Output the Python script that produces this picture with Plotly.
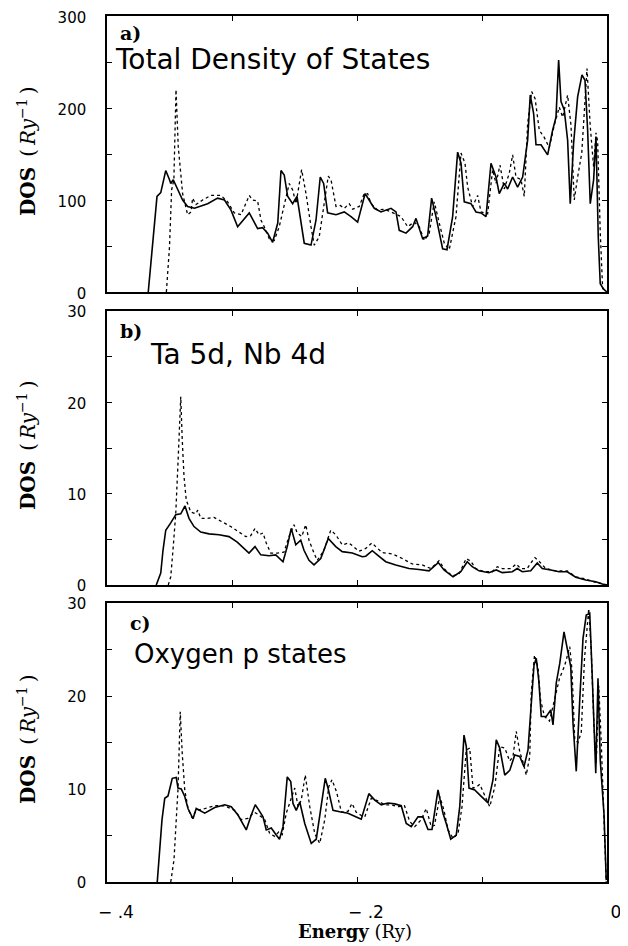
import plotly.graph_objects as go

# ---------------- data (Energy in Ry, DOS in Ry^-1) ----------------
a_solid_E = [-0.367, -0.3635, -0.360, -0.357, -0.353, -0.350, -0.349, -0.347, -0.3435, -0.3395, -0.3355, -0.330,
             -0.3195, -0.3115, -0.306, -0.3008, -0.2955, -0.2915, -0.2862, -0.2795, -0.2755, -0.2715, -0.2675,
             -0.2634, -0.2608, -0.2582, -0.2555, -0.2515, -0.248, -0.2422, -0.2368, -0.2328, -0.2294, -0.2267,
             -0.2235, -0.2168, -0.2102, -0.2048, -0.1995, -0.1935, -0.1862, -0.1808, -0.1728, -0.1688, -0.1662,
             -0.1608, -0.1555, -0.1528, -0.1475, -0.1435, -0.1403, -0.1368, -0.1315, -0.128, -0.1235, -0.1195,
             -0.1168, -0.1142, -0.1088, -0.1048, -0.1008, -0.0968, -0.0928, -0.0888, -0.0862, -0.0822, -0.0795,
             -0.0755, -0.0715, -0.0675, -0.0635, -0.0614, -0.0587, -0.0568, -0.0528, -0.0475, -0.0435, -0.0408,
             -0.0387, -0.0368, -0.0342, -0.0315, -0.0294, -0.0267, -0.0235, -0.020, -0.0176, -0.0155, -0.0134,
             -0.0107, -0.0088, -0.007, -0.0054, -0.0027, 0.0]
a_solid_V = [0, 49, 104, 108, 132, 122, 118, 122, 111, 100, 93, 91,
             96, 102, 100, 89, 71, 78, 86, 69, 70, 64, 54,
             75, 132, 127, 104, 96, 104, 53, 51, 78, 125, 118,
             86, 84, 87, 82, 76, 107, 91, 87, 91, 87, 67,
             64, 71, 80, 58, 61, 102, 82, 47, 46, 82, 152,
             140, 98, 96, 87, 86, 82, 140, 125, 107, 118, 112,
             125, 114, 125, 165, 214, 194, 160, 160, 149, 176, 190,
             252, 207, 198, 165, 96, 162, 212, 236, 230, 176, 96,
             122, 169, 60, 9, 3, 0]

a_dot_E = [-0.3525, -0.350, -0.3483, -0.3465, -0.3448, -0.343, -0.3395, -0.3355, -0.3328, -0.3315, -0.3288,
           -0.3235, -0.3168, -0.3088, -0.3035, -0.2982, -0.2928, -0.2862, -0.2835, -0.2795, -0.2768, -0.2742,
           -0.2702, -0.2662, -0.2622, -0.2582, -0.2542, -0.2515, -0.2488, -0.2443, -0.2408, -0.2368, -0.2342,
           -0.2302, -0.2262, -0.223, -0.2208, -0.2168, -0.2134, -0.2102, -0.2062, -0.2035, -0.1982, -0.1942,
           -0.1915, -0.1888, -0.1835, -0.1782, -0.1728, -0.1648, -0.1595, -0.1542, -0.1502, -0.1462, -0.1422,
           -0.1382, -0.1342, -0.1302, -0.1262, -0.1208, -0.1168, -0.1136, -0.1115, -0.1075, -0.1035, -0.1008,
           -0.0955, -0.0915, -0.0888, -0.0856, -0.0822, -0.0782, -0.0755, -0.0728, -0.0688, -0.0662, -0.0635,
           -0.0603, -0.0575, -0.0542, -0.0502, -0.0462, -0.0422, -0.0382, -0.0355, -0.0315, -0.0288, -0.0262,
           -0.0235, -0.0202, -0.016, -0.0134, -0.0107, -0.0088, -0.0075, -0.0054, -0.0035, 0.0]
a_dot_V = [0, 49, 111, 122, 220, 158, 107, 84, 87, 102, 95,
           100, 105, 105, 98, 86, 84, 105, 100, 99, 78, 71,
           58, 56, 71, 93, 118, 111, 96, 133, 107, 71, 51,
           60, 100, 126, 122, 93, 94, 91, 96, 90, 93, 107,
           107, 96, 89, 90, 87, 82, 71, 76, 71, 56, 64,
           98, 75, 53, 46, 82, 151, 140, 114, 93, 105, 87,
           85, 133, 118, 138, 112, 129, 149, 125, 122, 104, 183,
           218, 210, 176, 168, 157, 181, 201, 190, 214, 181, 100,
           125, 151, 243, 180, 136, 173, 164, 65, 4, 0]

b_solid_E = [-0.3606, -0.357, -0.3552, -0.353, -0.349, -0.345, -0.341, -0.3376, -0.3344, -0.3304, -0.325,
             -0.3184, -0.3104, -0.3024, -0.2958, -0.2904, -0.2864, -0.2816, -0.277, -0.2704, -0.265, -0.2592,
             -0.2558, -0.2526, -0.249, -0.245, -0.2424, -0.2384, -0.2344, -0.229, -0.223, -0.217, -0.2118,
             -0.2038, -0.1958, -0.193, -0.1878, -0.1838, -0.177, -0.169, -0.1584, -0.1504, -0.1424, -0.135,
             -0.1304, -0.1232, -0.117, -0.1118, -0.1078, -0.1024, -0.0944, -0.0886, -0.0838, -0.0758, -0.0718,
             -0.0678, -0.061, -0.0558, -0.0518, -0.045, -0.0384, -0.0318, -0.025, -0.017, -0.009, -0.0037, 0.0]
b_solid_V = [0, 1.3, 3.8, 6.0, 6.8, 7.7, 7.8, 8.65, 7.3, 6.4, 5.8,
             5.6, 5.5, 5.3, 4.7, 4.0, 3.5, 4.2, 3.3, 3.2, 3.3, 2.55,
             4.2, 6.2, 4.4, 4.9, 3.8, 2.7, 2.2, 2.9, 5.1, 4.2, 3.65,
             3.5, 3.1, 3.15, 3.75, 3.3, 2.55, 2.2, 1.8, 1.7, 1.55, 2.45,
             1.65, 0.9, 1.45, 2.55, 2.0, 1.55, 1.35, 1.65, 1.35, 1.45, 1.8,
             1.45, 1.55, 2.4, 1.8, 1.65, 1.45, 1.45, 0.85, 0.55, 0.35, 0.1, 0]

b_dot_E = [-0.351, -0.349, -0.347, -0.345, -0.343, -0.341, -0.3398, -0.3384, -0.3366, -0.333, -0.329, -0.3274,
           -0.325, -0.3198, -0.3144, -0.3078, -0.301, -0.2944, -0.289, -0.285, -0.2816, -0.2784, -0.2752, -0.2726,
           -0.269, -0.2638, -0.2584, -0.2544, -0.2504, -0.2478, -0.2442, -0.241, -0.2384, -0.2344, -0.2318,
           -0.2264, -0.221, -0.217, -0.2118, -0.2064, -0.2024, -0.1984, -0.193, -0.1882, -0.185, -0.1798,
           -0.1718, -0.1638, -0.1558, -0.1478, -0.141, -0.1344, -0.1304, -0.1238, -0.1184, -0.1126, -0.109,
           -0.105, -0.0984, -0.0918, -0.0878, -0.0838, -0.077, -0.0726, -0.0691, -0.0638, -0.061, -0.0576,
           -0.0544, -0.049, -0.041, -0.0318, -0.025, -0.017, -0.0104, -0.005, 0.0]
b_dot_V = [0, 0.9, 4.2, 7.8, 14, 20.6, 15.9, 11.9, 9.3, 8.0, 7.8, 8.2,
           7.3, 7.3, 7.4, 6.9, 6.4, 5.8, 5.3, 5.4, 6.2, 5.5, 5.7, 4.6,
           3.5, 3.5, 3.6, 5.3, 6.6, 5.7, 5.3, 6.6, 4.9, 3.5, 2.7,
           3.8, 6.0, 5.5, 4.4, 4.6, 4.2, 3.7, 4.0, 4.6, 4.2, 3.55,
           3.4, 2.9, 2.3, 2.2, 1.8, 2.65, 1.8, 1.0, 1.2, 2.9, 2.6,
           1.8, 1.45, 1.45, 2.0, 1.8, 1.8, 2.3, 1.8, 1.8, 2.4, 3.0,
           2.6, 1.8, 1.55, 1.55, 0.9, 0.65, 0.35, 0.15, 0]

c_solid_E = [-0.3598, -0.3578, -0.356, -0.3538, -0.3512, -0.3478, -0.3446, -0.3432, -0.3406, -0.3378, -0.3352,
             -0.3312, -0.3286, -0.3218, -0.3138, -0.3058, -0.3006, -0.2952, -0.2886, -0.2846, -0.2814, -0.2784,
             -0.2752, -0.2726, -0.2686, -0.2646, -0.262, -0.2592, -0.2558, -0.253, -0.2512, -0.2486, -0.2458,
             -0.2418, -0.2366, -0.2326, -0.229, -0.2254, -0.2232, -0.2192, -0.2138, -0.2072, -0.2006, -0.1966,
             -0.1905, -0.1858, -0.1806, -0.1752, -0.1698, -0.1646, -0.1606, -0.1566, -0.1512, -0.1472, -0.1432,
             -0.14, -0.1352, -0.1312, -0.1286, -0.125, -0.1206, -0.1178, -0.1144, -0.1126, -0.1104, -0.1058,
             -0.1006, -0.0952, -0.0912, -0.0886, -0.0858, -0.0818, -0.0778, -0.0738, -0.0698, -0.0664, -0.0632,
             -0.0606, -0.0584, -0.0566, -0.0546, -0.0526, -0.0486, -0.045, -0.0432, -0.0406, -0.0378, -0.0344,
             -0.0318, -0.029, -0.0272, -0.0246, -0.0218, -0.0192, -0.0166, -0.0138, -0.0118, -0.009, -0.0072,
             -0.0054, -0.0024, -0.0006]
c_solid_V = [0, 3.1, 6.7, 9.0, 9.25, 11.15, 11.25, 10.1, 10.0, 9.2, 7.9,
             6.8, 7.9, 7.4, 8.0, 8.3, 8.1, 7.2, 5.6, 7.2, 8.3, 7.7,
             7.0, 5.6, 5.8, 5.05, 4.6, 5.95, 11.3, 10.8, 8.45, 7.7, 8.6,
             6.3, 4.15, 4.6, 7.9, 11.15, 10.1, 7.7, 7.55, 7.4, 7.0, 6.75,
             9.5, 8.8, 8.3, 8.5, 8.4, 8.2, 6.3, 5.95, 7.0, 7.0, 5.65,
             5.65, 9.9, 7.4, 6.3, 4.6, 5.05, 8.1, 15.8, 14.6, 10.1, 9.9,
             9.2, 8.5, 11.0, 15.3, 14.4, 11.5, 12.0, 13.65, 13.5, 12.4, 14.2,
             19.6, 23.3, 24.05, 21.7, 17.8, 17.8, 18.5, 16.9, 21.4, 23.5, 26.9,
             24.9, 23.15, 17.1, 11.9, 19.6, 26.2, 28.7, 28.9, 22.1, 11.7, 21.9,
             13.1, 7.3, 0.2]

c_dot_E = [-0.349, -0.3464, -0.3446, -0.3432, -0.3414, -0.3398, -0.3378, -0.3352, -0.332, -0.3286, -0.3218,
           -0.3138, -0.3058, -0.2978, -0.2926, -0.2872, -0.282, -0.2784, -0.2738, -0.2698, -0.2658, -0.2626,
           -0.2598, -0.2566, -0.2526, -0.2498, -0.2472, -0.2446, -0.2414, -0.2378, -0.2338, -0.2298, -0.2258,
           -0.2226, -0.22, -0.2164, -0.2124, -0.2072, -0.204, -0.2006, -0.1966, -0.1938, -0.1886, -0.183,
           -0.1778, -0.1726, -0.1672, -0.162, -0.1578, -0.1538, -0.1486, -0.1446, -0.1406, -0.138, -0.1338,
           -0.1304, -0.1272, -0.1232, -0.1192, -0.116, -0.1126, -0.1098, -0.1072, -0.1045, -0.1018, -0.0985,
           -0.0938, -0.0898, -0.0858, -0.0818, -0.0778, -0.0752, -0.0726, -0.0698, -0.0672, -0.0646, -0.0618,
           -0.0606, -0.058, -0.0552, -0.0532, -0.05, -0.046, -0.042, -0.038, -0.034, -0.0298, -0.028, -0.0258,
           -0.0232, -0.0206, -0.018, -0.0146, -0.0126, -0.0104, -0.0086, -0.0066, -0.0046, -0.0024, -0.0006]
c_dot_V = [0, 2.4, 6.7, 10, 18.3, 13.8, 9.9, 7.9, 6.9, 7.7, 7.9,
           8.2, 8.2, 7.7, 6.7, 6.85, 7.5, 7.2, 6.7, 5.2, 4.9, 5.4,
           5.1, 7.4, 9.0, 10.1, 8.1, 8.8, 11.5, 8.1, 5.2, 4.15, 6.7,
           10.25, 11.0, 9.7, 7.5, 7.6, 8.45, 7.5, 7.15, 7.0, 9.0, 8.7,
           8.3, 8.3, 8.1, 8.2, 6.5, 5.95, 6.7, 7.9, 5.95, 6.1, 9.2,
           7.7, 5.6, 4.7, 5.2, 8.1, 14.2, 14.4, 10.1, 10.2, 10.5, 9.5,
           8.1, 10.2, 14.55, 14.4, 13.0, 13.5, 16.2, 14.0, 12.9, 11.5, 13.5,
           20.3, 24.4, 23.1, 19.6, 17.8, 17.3, 19.6, 21.9, 23.2, 25.3, 22.8, 15.3,
           15.0, 16.1, 24.0, 29.4, 24.9, 16.7, 12.8, 21.1, 15.0, 7.3, 0]

panel_labels = ["a)", "b)", "c)"]
panel_titles = ["Total Density of States", "Ta 5d, Nb 4d", "Oxygen p states"]
x_tickvals = [-0.4, -0.3, -0.2, -0.1, 0.0]
x_ticktext = ["\u2212 .4", "", "\u2212 .2", "", "0"]
ya_tickvals = [0, 50, 100, 150, 200, 250, 300]
ya_ticktext = ["0", "", "100", "", "200", "", "300"]
yb_tickvals = [0, 5, 10, 15, 20, 25, 30]
yb_ticktext = ["0", "", "10", "", "20", "", "30"]

# ---------------- figure ----------------
OFF = 8                      # default page (body) margin of the html page
W, H = 628 - OFF, 946 - OFF
# plot frame in page pixels: left 107, right 607, top 16, bottom 882
ML, MT = 107 - OFF, 16 - OFF
MR = W - (607 - OFF)
MB = H - (882 - OFF)
PW, PH = W - ML - MR, H - MT - MB


def py(pix):  # page pixel y -> paper fraction
    return (H - MB - (pix - OFF)) / PH


def px(pix):
    return (pix - OFF - ML) / PW


fig = go.Figure()
solid = dict(color="black", width=1.6)
dotted = dict(color="black", width=1.3, dash="dot")
series = [(a_solid_E, a_solid_V, a_dot_E, a_dot_V),
          (b_solid_E, b_solid_V, b_dot_E, b_dot_V),
          (c_solid_E, c_solid_V, c_dot_E, c_dot_V)]
for i, (e1, v1, e2, v2) in enumerate(series):
    xa = "x" if i == 0 else f"x{i+1}"
    ya = "y" if i == 0 else f"y{i+1}"
    fig.add_trace(go.Scatter(x=e1, y=v1, mode="lines", line=solid, xaxis=xa, yaxis=ya, showlegend=False))
    fig.add_trace(go.Scatter(x=e2, y=v2, mode="lines", line=dotted, xaxis=xa, yaxis=ya, showlegend=False))

domains = [(py(292), py(16)), (py(585), py(311)), (0.0, py(603))]
label_shift = [2, 1, 1]
tickfont = dict(family="DejaVu Sans", size=15, color="black")
common_x = dict(range=[-0.4, 0.0], tickmode="array", tickvals=x_tickvals, ticks="inside", ticklen=5,
                tickcolor="black", showline=True, linecolor="black", linewidth=1.5, mirror="ticks",
                showgrid=False, zeroline=False, tickfont=dict(tickfont, size=17), automargin=False)
common_y = dict(tickmode="array", ticks="inside", ticklen=5, tickcolor="black", showline=True,
                linecolor="black", linewidth=1.5, mirror="ticks", showgrid=False, zeroline=False,
                tickfont=tickfont, ticklabelstandoff=16, automargin=False, ticklabeloverflow="allow")
layout = {}
for i in range(3):
    xk = "xaxis" if i == 0 else f"xaxis{i+1}"
    yk = "yaxis" if i == 0 else f"yaxis{i+1}"
    anchor_y = "y" if i == 0 else f"y{i+1}"
    anchor_x = "x" if i == 0 else f"x{i+1}"
    xd = dict(common_x, anchor=anchor_y, domain=[0, 1])
    if i < 2:
        xd.update(showticklabels=False)
    else:
        xd.update(ticktext=x_ticktext, ticklabelstandoff=14, ticklabelshift=9, ticklabeloverflow="allow")
    yd = dict(common_y, anchor=anchor_x, domain=list(domains[i]), ticklabelshift=label_shift[i])
    if i == 0:
        yd.update(range=[0, 300], tickvals=ya_tickvals, ticktext=ya_ticktext)
    else:
        yd.update(range=[0, 30], tickvals=yb_tickvals, ticktext=yb_ticktext)
    layout[xk] = xd
    layout[yk] = yd

fig.update_layout(width=W, height=H, margin=dict(l=ML, r=MR, t=MT, b=MB, autoexpand=False),
                  paper_bgcolor="white", plot_bgcolor="white", **layout)

serif = "DejaVu Serif"
label_pos = [(118, 33), (118, 331), (128, 623)]
title_pos = [(113, 60, 28), (148, 354, 28), (132, 654, 26)]
ytitle_y = [152, 446, 740]
for i in range(3):
    lx, ly = label_pos[i]
    fig.add_annotation(xref="paper", yref="paper", x=px(lx), y=py(ly), xanchor="left", yanchor="middle",
                       text=f"<b>{panel_labels[i]}</b>", showarrow=False,
                       font=dict(family=serif, size=19, color="black"))
    tx, ty, ts = title_pos[i]
    fig.add_annotation(xref="paper", yref="paper", x=px(tx), y=py(ty), xanchor="left", yanchor="middle",
                       text=panel_titles[i], showarrow=False,
                       font=dict(family="DejaVu Sans", size=ts, color="black"))
    fig.add_annotation(xref="paper", yref="paper", x=px(27), y=py(ytitle_y[i]), xanchor="center",
                       yanchor="middle", textangle=-90,
                       text="<b>DOS</b>\u2002(\u2009<i>Ry</i><sup>\u22121</sup>\u2009)", showarrow=False,
                       font=dict(family=serif, size=20, color="black"))

fig.add_annotation(xref="paper", yref="paper", x=px(355), y=py(931), xanchor="center", yanchor="middle",
                   text="<b>Energy</b> (Ry)", showarrow=False, font=dict(family=serif, size=18, color="black"))

fig.write_html("out.html")
